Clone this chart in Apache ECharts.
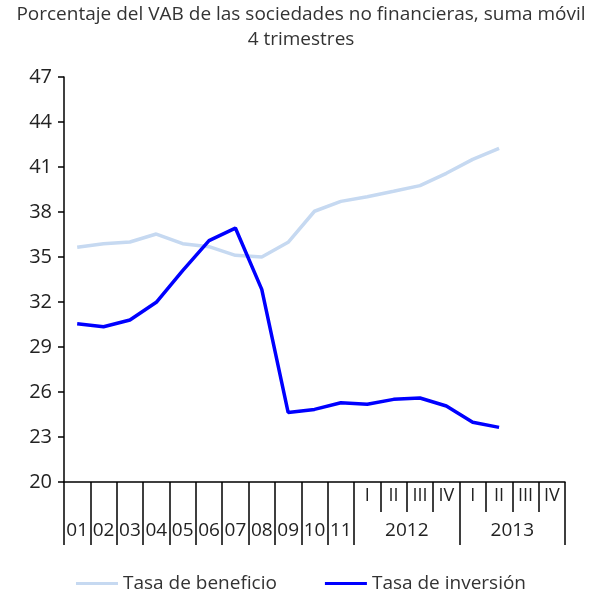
<!DOCTYPE html>
<html>
<head>
<meta charset="utf-8">
<script src="https://cdn.jsdelivr.net/npm/echarts@6/dist/echarts.min.js"></script>
<style>html,body{margin:0;padding:0;background:#fff}#c{width:602px;height:597px}</style>
</head>
<body>
<div id="c"></div>
<script>
var categories = ['01','02','03','04','05','06','07','08','09','10','11','2012 I','2012 II','2012 III','2012 IV','2013 I','2013 II','2013 III','2013 IV'];
var quarterLabels = ['','','','','','','','','','','','I','II','III','IV','I','II','III','IV'];
var yearLabels = ['01','02','03','04','05','06','07','08','09','10','11','2012','2013'];
var yearLabelPos = [0.5,1.5,2.5,3.5,4.5,5.5,6.5,7.5,8.5,9.5,10.5,13,17];
var yearTickPos = [0,1,2,3,4,5,6,7,8,9,10,11,15,19];
var beneficio = [35.65,35.89,36.0,36.53,35.89,35.69,35.11,35.0,35.98,38.05,38.71,39.02,39.38,39.76,40.58,41.51,42.24];
var inversion = [30.55,30.35,30.8,31.98,34.09,36.09,36.93,32.84,24.64,24.84,25.28,25.18,25.51,25.6,25.07,23.98,23.64];
var yTicks = {min:20, max:47, interval:3};

var FONT = '"Open Sans", "Noto Sans", sans-serif';
var chart = echarts.init(document.getElementById('c'), null, {renderer:'canvas'});
chart.setOption({
  animation:false,
  title:{
    text:'Porcentaje del VAB de las sociedades no financieras, suma móvil\n4 trimestres',
    left:'center', top:-3,
    textStyle:{fontFamily:FONT, fontSize:19, fontWeight:'normal', color:'#333', lineHeight:25}
  },
  legend:{
    bottom:-1, left:'center', itemWidth:42, itemHeight:3, itemGap:48,
    icon:'rect',
    textStyle:{fontFamily:FONT, fontSize:19, color:'#333'},
    data:['Tasa de beneficio','Tasa de inversión']
  },
  grid:{left:64, right:37, top:77, bottom:115, containLabel:false},
  xAxis:[{
    type:'category', data:categories, boundaryGap:true,
    axisLine:{lineStyle:{color:'#000', width:1.5}},
    axisTick:{show:true, length:30, interval:0, lineStyle:{color:'#000', width:1.5}},
    axisLabel:{interval:0, margin:5, fontFamily:FONT, fontSize:18, color:'#222',
      formatter:function(v, i){return quarterLabels[i];}}
  },{
    type:'value', min:0, max:19, position:'bottom',
    axisLine:{show:false}, splitLine:{show:false},
    axisTick:{show:true, length:63, customValues:yearTickPos, lineStyle:{color:'#000', width:1.5}},
    axisLabel:{show:true, margin:39, fontFamily:FONT, fontSize:19, color:'#222', customValues:yearLabelPos,
      formatter:function(v){var k=yearLabelPos.indexOf(v); return k>=0?yearLabels[k]:'';}}
  }],
  yAxis:{
    type:'value', min:yTicks.min, max:yTicks.max, interval:yTicks.interval,
    axisLine:{show:true, lineStyle:{color:'#000', width:1.5}},
    axisTick:{show:true, length:6, lineStyle:{color:'#000', width:1.5}},
    splitLine:{show:false},
    axisLabel:{margin:12, fontFamily:FONT, fontSize:20, color:'#222'}
  },
  series:[{
    name:'Tasa de beneficio', type:'line', data:beneficio, xAxisIndex:0,
    symbol:'none', lineStyle:{color:'#c6d9f1', width:3.5}, itemStyle:{color:'#c6d9f1'}
  },{
    name:'Tasa de inversión', type:'line', data:inversion, xAxisIndex:0,
    symbol:'none', lineStyle:{color:'#0000ff', width:3.5}, itemStyle:{color:'#0000ff'}
  }]
});
</script>
</body>
</html>
